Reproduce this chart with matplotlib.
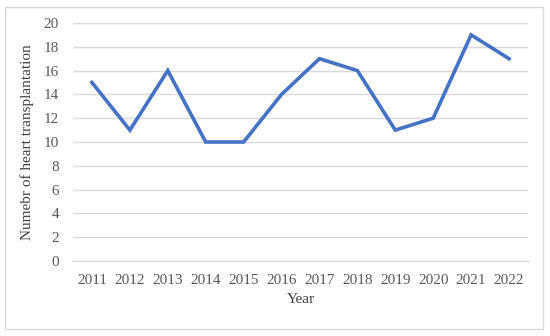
import matplotlib
matplotlib.use('Agg')
import matplotlib.pyplot as plt
from matplotlib.patches import Rectangle

# data
years = ['2011', '2012', '2013', '2014', '2015', '2016',
         '2017', '2018', '2019', '2020', '2021', '2022']
transplants = [15, 11, 16, 10, 10, 14, 17, 16, 11, 12, 19, 17]

plt.rcParams['font.family'] = ['Liberation Serif', 'DejaVu Serif']
text_color = '#595959'

fig = plt.figure(figsize=(5.5, 3.36), dpi=100)
ax = fig.add_axes([73 / 550, 1 - 261 / 336, 455 / 550, 238 / 336])

x = list(range(len(years)))
ax.plot(x, transplants, color='#4472C4', linewidth=2.6, solid_joinstyle='miter')

ax.set_xlim(-0.5, len(years) - 0.5)
ax.set_ylim(0, 20)
ax.set_yticks(range(0, 21, 2))
ax.set_xticks(x)
ax.set_xticklabels(years)
ax.grid(axis='y', color='#D9D9D9', linewidth=1)
ax.set_axisbelow(True)
for s in ['top', 'right', 'left']:
    ax.spines[s].set_visible(False)
ax.spines['bottom'].set_color('#D9D9D9')
ax.tick_params(axis='both', length=0, labelsize=11, labelcolor=text_color)
ax.tick_params(axis='x', pad=9)
ax.tick_params(axis='y', pad=10)

ax.set_xlabel('Year', fontsize=11, color='#404040', labelpad=5)
ax.set_ylabel('Numebr of heart transplantation', fontsize=11, color='#404040',
              labelpad=7)

# light frame around the whole chart
fig.patches.append(Rectangle((5 / 550, 1 - 329 / 336), 538 / 550, 322 / 336,
                             transform=fig.transFigure, fill=False,
                             edgecolor='#D9D9D9', linewidth=1))

fig.savefig('out.png', dpi=100)
